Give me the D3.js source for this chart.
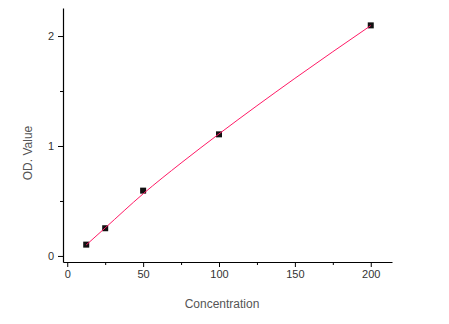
<!DOCTYPE html>
<html>
<head>
<meta charset="utf-8">
<script src="https://cdn.jsdelivr.net/npm/d3@7"></script>
<style>
  body { margin: 0; background: #fff; }
  svg { display: block; font-family: Arial, "Liberation Sans", sans-serif; }
</style>
</head>
<body>
<svg id="chart" width="449" height="324"></svg>
<script>
// standard curve: measured points
const concentration = [12.5, 25, 50, 100, 200];
const odValue       = [0.103, 0.252, 0.594, 1.106, 2.097];
// fitted curve
const fitConc = [12.5, 25, 50, 75, 100, 150, 200];
const fitOd   = [0.10, 0.255, 0.565, 0.845, 1.11, 1.615, 2.095];
const xTicks = [0, 50, 100, 150, 200];
const xMinor = [25, 75, 125, 175];
const yTicks = [0, 1, 2];
const yMinor = [0.5, 1.5];

const svg = d3.select('#chart');
const x = d3.scaleLinear().domain([-2.8, 214]).range([63, 392]);
const y = d3.scaleLinear().domain([-0.055, 2.255]).range([262, 8]);
const ink = '#333';

// ---- axes -------------------------------------------------------------------
const xAxis = svg.append('g').attr('transform', `translate(0,${y.range()[0]})`);
xAxis.call(d3.axisBottom(x).tickValues(xTicks).tickSize(5).tickSizeOuter(0).tickPadding(3));
xAxis.append('g').call(d3.axisBottom(x).tickValues(xMinor).tickSize(3).tickFormat(''))
  .select('.domain').remove();

const yAxis = svg.append('g').attr('transform', `translate(${x.range()[0]},0)`);
yAxis.call(d3.axisLeft(y).tickValues(yTicks).tickFormat(d3.format('d')).tickSize(5).tickSizeOuter(0).tickPadding(4));
yAxis.append('g').call(d3.axisLeft(y).tickValues(yMinor).tickSize(3).tickFormat(''))
  .select('.domain').remove();

svg.selectAll('.domain').attr('stroke', '#000').attr('stroke-width', 1.2);
svg.selectAll('.tick line').attr('stroke', '#000');
svg.selectAll('.tick text').attr('fill', ink).style('font-size', '11px');

// ---- titles -------------------------------------------------------------------
svg.append('text')
  .attr('x', 222).attr('y', 308)
  .attr('text-anchor', 'middle')
  .attr('fill', '#555').style('font-size', '12px')
  .text('Concentration');

svg.append('text')
  .attr('transform', 'translate(32,153) rotate(-90)')
  .attr('text-anchor', 'middle')
  .attr('fill', '#555').style('font-size', '12px')
  .text('OD. Value');

// ---- data -------------------------------------------------------------------
const pts = concentration.map((c, i) => ({ c, v: odValue[i] }));
const fit = fitConc.map((c, i) => ({ c, v: fitOd[i] }));

svg.selectAll('rect.pt').data(pts).enter().append('rect')
  .attr('class', 'pt')
  .attr('x', d => x(d.c) - 3).attr('y', d => y(d.v) - 3)
  .attr('width', 6).attr('height', 6)
  .attr('fill', '#111');

const line = d3.line().x(d => x(d.c)).y(d => y(d.v)).curve(d3.curveMonotoneX);
svg.append('path')
  .datum(fit)
  .attr('d', line)
  .attr('fill', 'none')
  .attr('stroke', '#ff1a66')
  .attr('stroke-width', 1);
</script>
</body>
</html>
